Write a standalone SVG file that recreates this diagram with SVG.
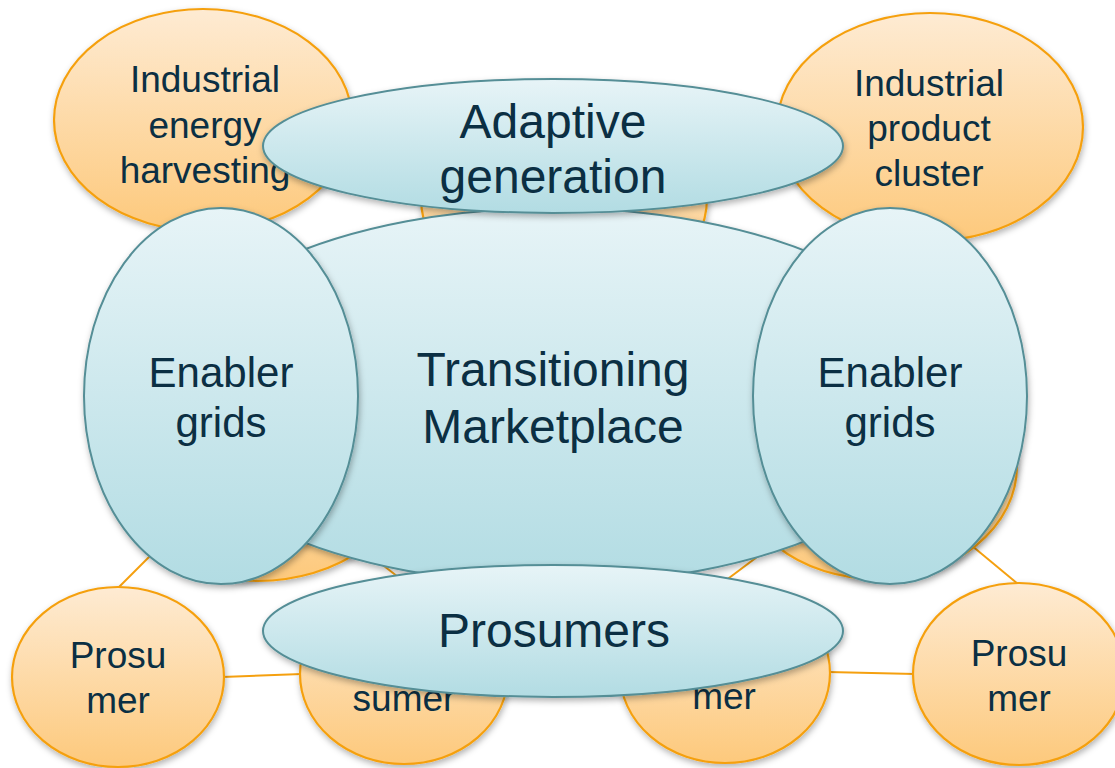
<svg xmlns="http://www.w3.org/2000/svg" width="1115" height="768" viewBox="0 0 1115 768">
  <defs>
    <linearGradient id="gOrange" x1="0" y1="0" x2="0" y2="1">
      <stop offset="0" stop-color="#FEEBD3"/>
      <stop offset="1" stop-color="#FDC97C"/>
    </linearGradient>
    <linearGradient id="gBlue" x1="0" y1="0" x2="0" y2="1">
      <stop offset="0" stop-color="#E7F4F7"/>
      <stop offset="1" stop-color="#B2DCE3"/>
    </linearGradient>
    <filter id="shadow" x="-10%" y="-10%" width="120%" height="125%">
      <feDropShadow dx="1" dy="3" stdDeviation="3" flood-color="#000" flood-opacity="0.3"/>
    </filter>
  </defs>
  <style>
    .o { fill: url(#gOrange); stroke: #F5A00F; stroke-width: 2.2; filter: url(#shadow); }
    .b { fill: url(#gBlue); stroke: #548E96; stroke-width: 2; filter: url(#shadow); }
    .conn { stroke: #F5A00F; stroke-width: 2; fill: none; }
    text { font-family: "Liberation Sans", Arial, sans-serif; fill: #0B2F43; text-anchor: middle; }
    .t1 { font-size: 37px; }
    .t2 { font-size: 42px; }
    .t3 { font-size: 48px; }
  </style>
  <rect width="1115" height="768" fill="#FFFFFF"/>

  <g id="connectors">
    <line class="conn" x1="119" y1="587" x2="200" y2="506"/>
    <line class="conn" x1="222" y1="677" x2="302" y2="674"/>
    <line class="conn" x1="300" y1="500" x2="407" y2="584"/>
    <line class="conn" x1="830" y1="502" x2="721" y2="584"/>
    <line class="conn" x1="828" y1="672" x2="915" y2="674"/>
    <line class="conn" x1="1018" y1="584" x2="930" y2="511"/>
  </g>

  <g id="node-industrial-energy">
    <ellipse class="o" cx="203" cy="120" rx="149" ry="111"/>
    <text class="t1" x="205" y="92">Industrial</text>
    <text class="t1" x="205" y="138">energy</text>
    <text class="t1" x="205" y="183">harvesting</text>
  </g>
  <g id="node-top-center">
    <ellipse class="o" cx="564" cy="198" rx="143" ry="110"/>
  </g>
  <g id="node-industrial-product">
    <ellipse class="o" cx="930" cy="127" rx="153" ry="114"/>
    <text class="t1" x="929" y="96">Industrial</text>
    <text class="t1" x="929" y="141">product</text>
    <text class="t1" x="929" y="186">cluster</text>
  </g>
  <g id="node-mid-left">
    <ellipse class="o" cx="258" cy="468" rx="150" ry="113"/>
  </g>
  <g id="node-mid-right">
    <ellipse class="o" cx="876" cy="466" rx="141" ry="113"/>
  </g>
  <g id="node-prosumer-left">
    <ellipse class="o" cx="118" cy="677" rx="106" ry="90"/>
    <text class="t1" x="118" y="668">Prosu</text>
    <text class="t1" x="118" y="713">mer</text>
  </g>
  <g id="node-consumer-left">
    <ellipse class="o" cx="404" cy="674" rx="104" ry="90"/>
    <text class="t1" x="404" y="711">sumer</text>
  </g>
  <g id="node-consumer-right">
    <ellipse class="o" cx="725" cy="673" rx="105" ry="90"/>
    <text class="t1" x="724" y="709">mer</text>
  </g>
  <g id="node-prosumer-right">
    <ellipse class="o" cx="1019" cy="674" rx="106" ry="91"/>
    <text class="t1" x="1019" y="666">Prosu</text>
    <text class="t1" x="1019" y="711">mer</text>
  </g>

  <g id="node-transitioning">
    <ellipse class="b" cx="553" cy="396" rx="397" ry="188"/>
    <text class="t3" x="553" y="386">Transitioning</text>
    <text class="t3" x="553" y="443">Marketplace</text>
  </g>
  <g id="node-adaptive">
    <ellipse class="b" cx="553" cy="146" rx="290" ry="67"/>
    <text class="t3" x="553" y="138">Adaptive</text>
    <text class="t3" x="553" y="193">generation</text>
  </g>
  <g id="node-prosumers">
    <ellipse class="b" cx="553" cy="631" rx="290" ry="66"/>
    <text class="t3" x="554" y="647">Prosumers</text>
  </g>
  <g id="node-enabler-left">
    <ellipse class="b" cx="221" cy="396" rx="137" ry="188"/>
    <text class="t2" x="221" y="387">Enabler</text>
    <text class="t2" x="221" y="437">grids</text>
  </g>
  <g id="node-enabler-right">
    <ellipse class="b" cx="890" cy="396" rx="137" ry="188"/>
    <text class="t2" x="890" y="387">Enabler</text>
    <text class="t2" x="890" y="437">grids</text>
  </g>
</svg>
